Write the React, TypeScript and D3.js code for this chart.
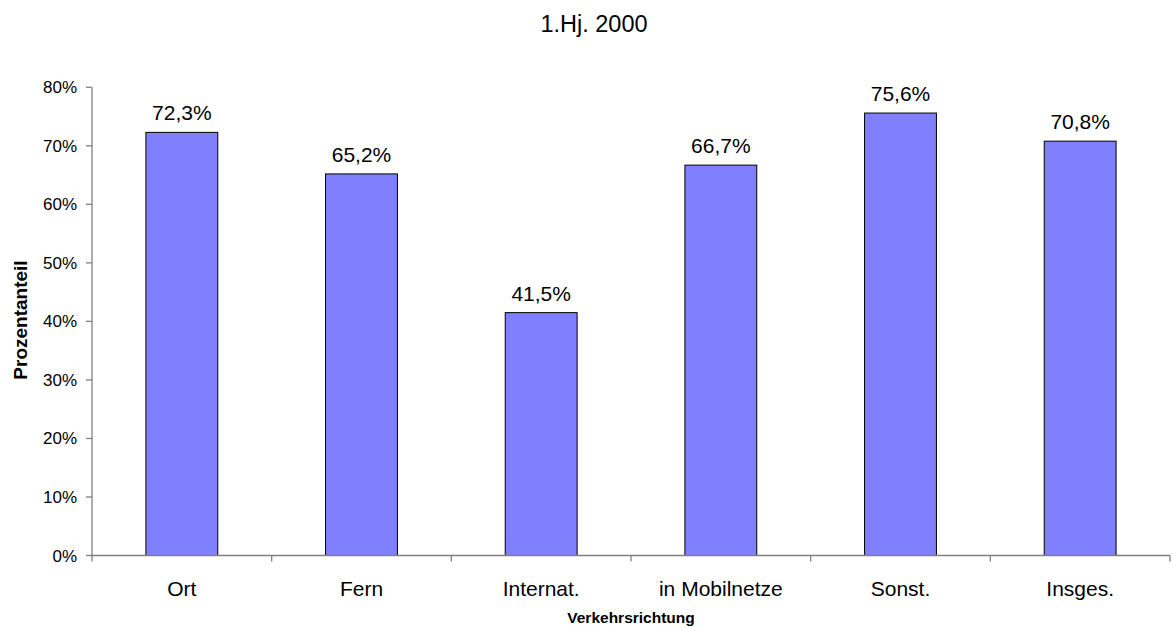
import React from "react";
import * as d3 from "d3";

const categories = ["Ort", "Fern", "Internat.", "in Mobilnetze", "Sonst.", "Insges."];
const shares = [72.3, 65.2, 41.5, 66.7, 75.6, 70.8];
const yTicks = [0, 10, 20, 30, 40, 50, 60, 70, 80];
const title = "1.Hj. 2000";
const xTitle = "Verkehrsrichtung";
const yTitle = "Prozentanteil";

const W = 1173;
const H = 628;
const left = 92;
const right = 1170;
const top = 87.3;
const bottom = 555.5;
const font = "Arial, 'Liberation Sans', sans-serif";
const axisColor = "#808080";

const fmt = (v: number) => v.toFixed(1).replace(".", ",") + "%";

export default function App() {
  const x = d3.scaleBand<string>().domain(categories).range([left, right]).paddingInner(0).paddingOuter(0);
  const y = d3.scaleLinear().domain([0, 80]).range([bottom, top]);
  const bw = x.bandwidth() * 0.4;
  const bounds = categories.map((c) => x(c) as number).concat([right]);

  return (
    <svg
      width={W}
      height={H}
      style={{ position: "absolute", left: 0, top: 0, background: "#fff" }}
      fontFamily={font}
    >
      <rect x={0} y={0} width={W} height={H} fill="#fff" />
      <text x={594} y={32} fontSize={23.5} textAnchor="middle" fill="#000">
        {title}
      </text>

      {/* bars */}
      {categories.map((c, i) => {
        const cx = (x(c) as number) + x.bandwidth() / 2;
        const yt = y(shares[i]);
        return (
          <g key={c}>
            <rect
              x={cx - bw / 2}
              y={yt}
              width={bw}
              height={bottom - yt}
              fill="#8080FF"
              stroke="#000"
              strokeWidth={1}
            />
            <text x={cx} y={yt - 12} fontSize={21} textAnchor="middle" fill="#000">
              {fmt(shares[i])}
            </text>
            <text x={cx} y={596} fontSize={21} textAnchor="middle" fill="#000">
              {c}
            </text>
          </g>
        );
      })}

      {/* y axis */}
      <line x1={left} x2={left} y1={top} y2={bottom} stroke={axisColor} strokeWidth={1.3} />
      {yTicks.map((t) => (
        <g key={t}>
          <line x1={left - 6} x2={left} y1={y(t)} y2={y(t)} stroke={axisColor} strokeWidth={1.3} />
          <text x={77} y={y(t) + 6} fontSize={17} textAnchor="end" fill="#000">
            {t}%
          </text>
        </g>
      ))}

      {/* x axis */}
      <line x1={left} x2={right} y1={bottom} y2={bottom} stroke={axisColor} strokeWidth={1.3} />
      {bounds.map((b, i) => (
        <line key={i} x1={b} x2={b} y1={bottom} y2={bottom + 6} stroke={axisColor} strokeWidth={1.3} />
      ))}

      <text x={631} y={623} fontSize={15.5} fontWeight="bold" textAnchor="middle" fill="#000">
        {xTitle}
      </text>
      <text
        transform={`translate(26.5,320) rotate(-90)`}
        fontSize={19}
        fontWeight="bold"
        textAnchor="middle"
        fill="#000"
      >
        {yTitle}
      </text>
    </svg>
  );
}
